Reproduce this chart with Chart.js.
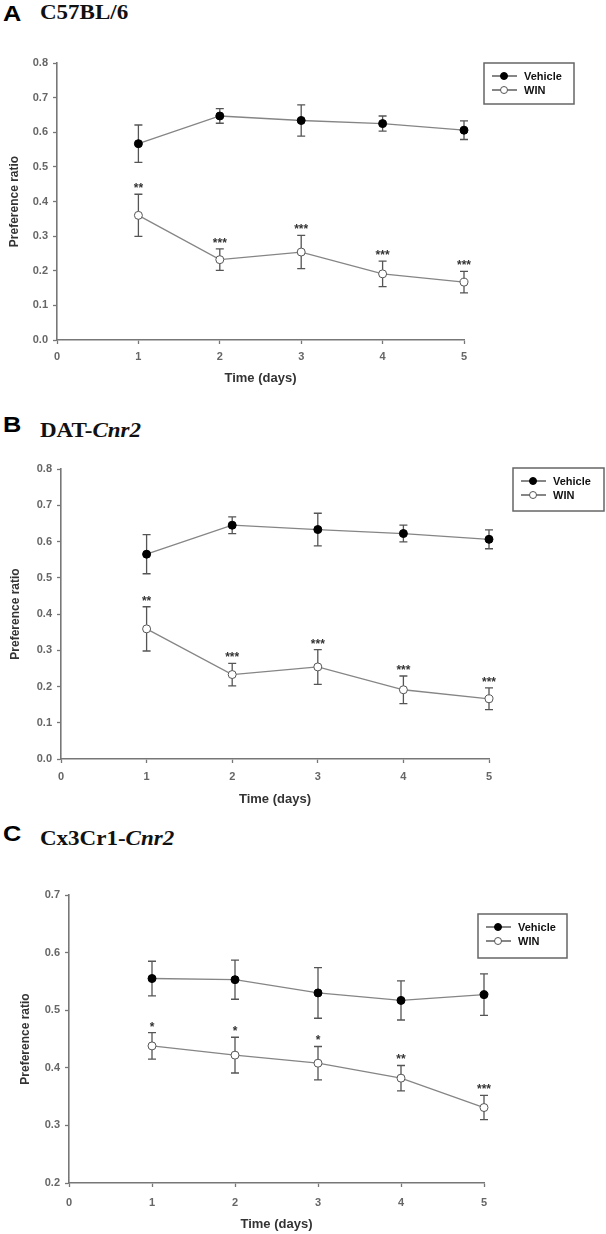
<!DOCTYPE html>
<html>
<head>
<meta charset="utf-8">
<script src="https://cdn.jsdelivr.net/npm/chart.js@4.4.1/dist/chart.umd.min.js"></script>
<style>
  body { margin: 0; background: #fff; width: 606px; height: 1234px; position: relative; overflow: hidden; }
  .letter { position: absolute; left: 3px; font: bold 22px "Liberation Sans", Arial, sans-serif; line-height: 22px; color: #000;
            transform: scaleX(1.15); transform-origin: left top; }
  .name { position: absolute; left: 40px; font: bold 20px "Liberation Serif", "Times New Roman", serif; line-height: 20px; color: #111;
          transform: scaleX(1.15); transform-origin: left top; white-space: nowrap; }
  canvas { position: absolute; left: 0; }
</style>
</head>
<body>
<div class="letter" style="top:3px">A</div>
<div class="name" style="top:2px">C57BL/6</div>
<div class="letter" style="top:414px">B</div>
<div class="name" style="top:420px">DAT-<i>Cnr2</i></div>
<div class="letter" style="top:823px">C</div>
<div class="name" style="top:828px">Cx3Cr1-<i>Cnr2</i></div>

<canvas id="chartA" style="top:30px"></canvas>
<canvas id="chartB" style="top:445px"></canvas>
<canvas id="chartC" style="top:870px"></canvas>

<script>
// data
var days = [1, 2, 3, 4, 5];
var xTicks = [0, 1, 2, 3, 4, 5];
var yTicksAB = [0.0, 0.1, 0.2, 0.3, 0.4, 0.5, 0.6, 0.7, 0.8];
var yTicksC = [0.2, 0.3, 0.4, 0.5, 0.6, 0.7];

var vehicleA = [0.567, 0.647, 0.634, 0.625, 0.606];
var vehicleSemA = [0.054, 0.021, 0.045, 0.022, 0.027];
var winA = [0.360, 0.232, 0.254, 0.191, 0.167];
var winSemA = [0.061, 0.031, 0.048, 0.037, 0.031];
var starsA = ['**', '***', '***', '***', '***'];

var vehicleB = [0.565, 0.645, 0.633, 0.622, 0.606];
var vehicleSemB = [0.054, 0.023, 0.045, 0.023, 0.026];
var winB = [0.359, 0.233, 0.254, 0.191, 0.166];
var winSemB = [0.061, 0.031, 0.048, 0.038, 0.030];
var starsB = ['**', '***', '***', '***', '***'];

var vehicleC = [0.555, 0.553, 0.530, 0.517, 0.527];
var vehicleSemC = [0.030, 0.034, 0.044, 0.034, 0.036];
var winC = [0.438, 0.422, 0.408, 0.382, 0.331];
var winSemC = [0.023, 0.031, 0.029, 0.022, 0.021];
var starsC = ['*', '*', '*', '**', '***'];

var seriesNames = ['Vehicle', 'WIN'];

// error bars under the points, asterisks above the WIN bars
var errorBars = {
    id: 'errorBars',
    beforeDatasetsDraw: function (chart) {
        var ctx = chart.ctx, y = chart.scales.y;
        ctx.save();
        ctx.strokeStyle = '#555';
        ctx.lineWidth = 1.3;
        chart.data.datasets.forEach(function (ds, i) {
            chart.getDatasetMeta(i).data.forEach(function (pt, j) {
                var v = ds.data[j].y, e = ds.errors[j];
                var yt = y.getPixelForValue(v + e), yb = y.getPixelForValue(v - e);
                ctx.beginPath();
                ctx.moveTo(pt.x, yt); ctx.lineTo(pt.x, yb);
                ctx.moveTo(pt.x - 4, yt); ctx.lineTo(pt.x + 4, yt);
                ctx.moveTo(pt.x - 4, yb); ctx.lineTo(pt.x + 4, yb);
                ctx.stroke();
            });
        });
        ctx.restore();
    },
    afterDatasetsDraw: function (chart) {
        var ctx = chart.ctx, y = chart.scales.y;
        ctx.save();
        ctx.fillStyle = '#333';
        ctx.font = 'bold 12px "Liberation Sans", Arial, sans-serif';
        ctx.textAlign = 'center';
        ctx.textBaseline = 'alphabetic';
        chart.data.datasets.forEach(function (ds, i) {
            if (!ds.stars) return;
            chart.getDatasetMeta(i).data.forEach(function (pt, j) {
                var yt = y.getPixelForValue(ds.data[j].y + ds.errors[j]);
                ctx.fillText(ds.stars[j], pt.x, yt - 2);
            });
        });
        ctx.restore();
    }
};

// framed legend at a fixed spot
var boxLegend = {
    id: 'boxLegend',
    afterDraw: function (chart, args, o) {
        var ctx = chart.ctx;
        ctx.save();
        ctx.strokeStyle = '#666';
        ctx.lineWidth = 1.5;
        ctx.strokeRect(o.x, o.y, o.w, o.h);
        chart.data.datasets.forEach(function (ds, i) {
            var ry = o.y + 13 + i * 14;
            ctx.strokeStyle = '#444';
            ctx.lineWidth = 1.3;
            ctx.beginPath();
            ctx.moveTo(o.x + 8, ry); ctx.lineTo(o.x + 33, ry);
            ctx.stroke();
            ctx.beginPath();
            ctx.arc(o.x + 20, ry, 3.5, 0, Math.PI * 2);
            ctx.fillStyle = ds.pointBackgroundColor;
            ctx.fill();
            ctx.lineWidth = 1;
            ctx.strokeStyle = ds.pointBorderColor;
            ctx.stroke();
            ctx.fillStyle = '#111';
            ctx.font = 'bold 11px "Liberation Sans", Arial, sans-serif';
            ctx.textBaseline = 'middle';
            ctx.fillText(ds.label, o.x + 40, ry + 0.5);
        });
        ctx.restore();
    }
};

function pts(vals) {
    return days.map(function (d, i) { return { x: d, y: vals[i] }; });
}

function makePanel(id, p) {
    var canvas = document.getElementById(id);
    canvas.width = 606;
    canvas.height = p.H;
    canvas.style.width = '606px';
    canvas.style.height = p.H + 'px';
    var lh = 12 * 1.2;
    var tickFont = { family: '"Liberation Sans", Arial, sans-serif', size: 11, weight: 'bold' };
    return new Chart(canvas.getContext('2d'), {
        type: 'line',
        data: {
            datasets: [{
                label: seriesNames[0],
                data: pts(p.veh),
                errors: p.vehSem,
                borderColor: '#858585',
                borderWidth: 1.3,
                pointBackgroundColor: '#000',
                pointBorderColor: '#000',
                pointBorderWidth: 1,
                pointRadius: 4,
                tension: 0,
                clip: false
            }, {
                label: seriesNames[1],
                data: pts(p.win),
                errors: p.winSem,
                stars: p.stars,
                borderColor: '#858585',
                borderWidth: 1.3,
                pointBackgroundColor: '#fff',
                pointBorderColor: '#555',
                pointBorderWidth: 1,
                pointRadius: 4,
                tension: 0,
                clip: false
            }]
        },
        options: {
            responsive: false,
            animation: false,
            devicePixelRatio: 1,
            layout: {
                padding: { top: p.areaTop - p.T, right: 606 - p.areaRight, left: 0, bottom: 0 }
            },
            plugins: {
                legend: { display: false },
                tooltip: { enabled: false },
                boxLegend: { x: p.leg[0], y: p.leg[1] - p.T, w: p.leg[2], h: p.leg[3] }
            },
            scales: {
                x: {
                    type: 'linear',
                    min: 0,
                    max: 5,
                    afterBuildTicks: function (s) { s.ticks = xTicks.map(function (v) { return { value: v }; }); },
                    afterFit: function (s) { s.height = p.T + p.H - p.areaBottom; },
                    grid: { drawOnChartArea: false, tickLength: 4, tickColor: '#777', tickWidth: 1.3 },
                    border: { color: '#777', width: 1.6 },
                    ticks: { color: '#666', padding: p.xPad, font: tickFont },
                    title: {
                        display: true,
                        text: 'Time (days)',
                        color: '#333',
                        font: { family: '"Liberation Sans", Arial, sans-serif', size: 13, weight: 'bold' },
                        padding: { top: 0, bottom: p.T + p.H - p.titleY - 7.8 }
                    }
                },
                y: {
                    min: p.yTicks[0],
                    max: p.yTicks[p.yTicks.length - 1],
                    afterBuildTicks: function (s) { s.ticks = p.yTicks.map(function (v) { return { value: v }; }); },
                    afterFit: function (s) { s.width = p.areaLeft; },
                    grid: { drawOnChartArea: false, tickLength: 4, tickColor: '#777', tickWidth: 1.3 },
                    border: { color: '#777', width: 1.6 },
                    ticks: {
                        color: '#666',
                        padding: 5,
                        font: tickFont,
                        callback: function (v) { return Number(v).toFixed(1); }
                    },
                    title: {
                        display: true,
                        text: 'Preference ratio',
                        color: '#333',
                        font: { family: '"Liberation Sans", Arial, sans-serif', size: 12, weight: 'bold' },
                        padding: { top: p.ylabelX - lh / 2, bottom: 0 }
                    }
                }
            }
        },
        plugins: [errorBars, boxLegend]
    });
}

makePanel('chartA', {
    T: 30, H: 370, areaTop: 63, areaBottom: 340, areaLeft: 57, areaRight: 464,
    titleY: 378, ylabelX: 15, xPad: 6, leg: [484, 63, 90, 41], yTicks: yTicksAB,
    veh: vehicleA, vehSem: vehicleSemA, win: winA, winSem: winSemA, stars: starsA
});
makePanel('chartB', {
    T: 445, H: 375, areaTop: 469, areaBottom: 759, areaLeft: 61, areaRight: 489,
    titleY: 799, ylabelX: 15.5, xPad: 7, leg: [513, 468, 91, 43], yTicks: yTicksAB,
    veh: vehicleB, vehSem: vehicleSemB, win: winB, winSem: winSemB, stars: starsB
});
makePanel('chartC', {
    T: 870, H: 364, areaTop: 895, areaBottom: 1183, areaLeft: 69, areaRight: 484,
    titleY: 1224, ylabelX: 26, xPad: 9, leg: [478, 914, 89, 44], yTicks: yTicksC,
    veh: vehicleC, vehSem: vehicleSemC, win: winC, winSem: winSemC, stars: starsC
});
</script>
</body>
</html>
